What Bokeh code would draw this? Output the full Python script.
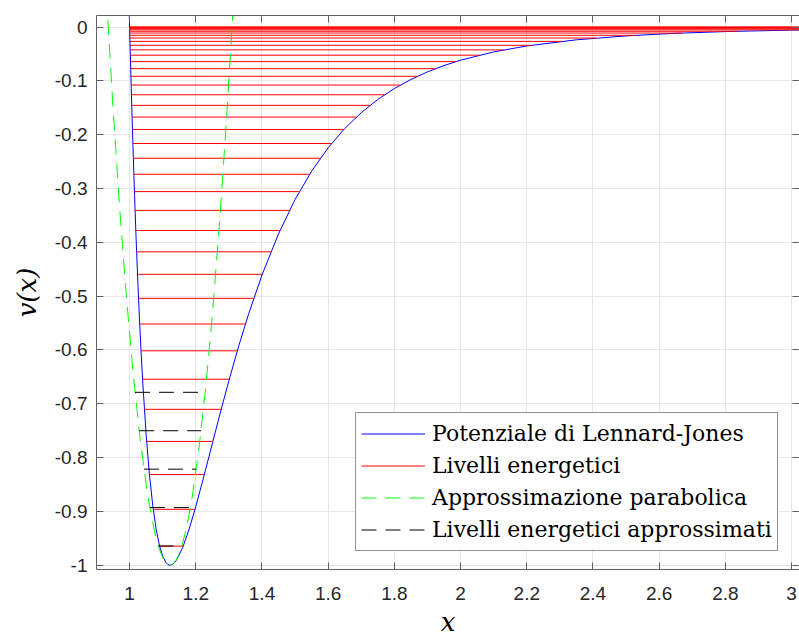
from bokeh.plotting import figure
from bokeh.models import Range1d, FixedTicker, LinearAxis, Legend, LegendItem, CustomJSTickFormatter
from bokeh.embed import file_html
from bokeh.resources import INLINE

# Lennard-Jones potential
lj_x = [0.999, 1.0, 1.005, 1.01, 1.015, 1.02, 1.025, 1.03, 1.035, 1.04, 1.05, 1.06, 1.07,
        1.08, 1.09, 1.10, 1.11, 1.115, 1.12, 1.1225, 1.13, 1.14, 1.16, 1.18, 1.20, 1.22,
        1.24, 1.27, 1.30, 1.33, 1.36, 1.40, 1.45, 1.50, 1.55, 1.60, 1.65, 1.70, 1.75,
        1.80, 1.85, 1.90, 1.95, 2.0, 2.1, 2.2, 2.35, 2.5, 2.65, 2.8, 3.0, 3.05]
lj_v = [0.0242, 0.0, -0.1145, -0.2184, -0.3126, -0.3979, -0.4750, -0.5444, -0.6069, -0.6629,
        -0.7575, -0.8320, -0.8893, -0.9322, -0.9629, -0.9834, -0.9952, -0.9983, -0.9998,
        -1.0, -0.9985, -0.9921, -0.9679, -0.9329, -0.8910, -0.8452, -0.7977, -0.7261,
        -0.6570, -0.5921, -0.5323, -0.4607, -0.3841, -0.3203, -0.2677, -0.2242, -0.1884,
        -0.1589, -0.1344, -0.1142, -0.0973, -0.0832, -0.0714, -0.0615, -0.0461, -0.0350,
        -0.0236, -0.0163, -0.0115, -0.0083, -0.0055, -0.0050]

# energy levels (red) with their turning points
level_v = [-0.9646, -0.8962, -0.8315, -0.7700, -0.7103, -0.6544, -0.6016, -0.5518, -0.5041,
           -0.4594, -0.4176, -0.3779, -0.3406, -0.3057, -0.2735, -0.2437, -0.2163, -0.1902,
           -0.1672, -0.1454, -0.1257, -0.1076, -0.0914, -0.0772, -0.0641, -0.0522, -0.0423,
           -0.0338, -0.0265, -0.0203, -0.0152, -0.0110, -0.0077, -0.0051, -0.0032, -0.0018,
           -0.0009, -0.00036, -0.0001, -0.00001]
level_x_left = [1.0907, 1.0714, 1.0599, 1.0515, 1.0447, 1.0392, 1.0346, 1.0306, 1.0270, 1.0240,
                1.0212, 1.0188, 1.0166, 1.0146, 1.0129, 1.0113, 1.0099, 1.0086, 1.0075, 1.0064,
                1.0055, 1.0047, 1.0039, 1.0033, 1.0027, 1.0022, 1.0018, 1.0014, 1.0011, 1.0009,
                1.0006, 1.0005, 1.0003, 1.0002, 1.0001, 1.0001, 1.0, 1.0, 1.0, 1.0]
level_x_right = [1.1621, 1.1976, 1.2258, 1.2515, 1.2767, 1.3012, 1.3255, 1.3499, 1.3751, 1.4008,
                 1.4270, 1.4545, 1.4831, 1.5130, 1.5440, 1.5764, 1.6102, 1.6473, 1.6848, 1.7263,
                 1.7703, 1.8183, 1.8698, 1.9244, 1.9861, 2.0564, 2.1306, 2.2130, 2.3054, 2.4102,
                 2.5304, 2.6704, 2.8363, 3.0372, 3.2886, 3.6124, 4.057, 4.721, 5.876, 8.735]

# parabolic approximation (green dashed)
para_x = [0.93, 0.95, 0.97, 0.99, 1.01, 1.03, 1.05, 1.06, 1.07, 1.08, 1.09, 1.10, 1.11, 1.1225,
          1.13, 1.14, 1.15, 1.16, 1.17, 1.18, 1.19, 1.21, 1.23, 1.25, 1.27, 1.29, 1.31, 1.32]
para_v = [0.0583, -0.1503, -0.3359, -0.4987, -0.6387, -0.7558, -0.8500, -0.8885, -0.9214,
          -0.9485, -0.9699, -0.9856, -0.9956, -1.0, -0.9984, -0.9912, -0.9783, -0.9597,
          -0.9354, -0.9054, -0.8697, -0.7811, -0.6696, -0.5353, -0.3781, -0.1980, 0.0048, 0.1149]

# approximated (harmonic) levels (black dashed)
approx_v = [-0.9643, -0.8929, -0.8215, -0.7501, -0.6787]
approx_x_left = [1.0872, 1.0613, 1.0435, 1.0290, 1.0165]
approx_x_right = [1.1578, 1.1837, 1.2015, 1.2160, 1.2286]

x_ticks = [1.0, 1.2, 1.4, 1.6, 1.8, 2.0, 2.2, 2.4, 2.6, 2.8, 3.0]
x_tick_labels = ["1", "1.2", "1.4", "1.6", "1.8", "2", "2.2", "2.4", "2.6", "2.8", "3"]
y_ticks = [-1.0, -0.9, -0.8, -0.7, -0.6, -0.5, -0.4, -0.3, -0.2, -0.1, 0.0]
y_tick_labels = ["-1", "-0.9", "-0.8", "-0.7", "-0.6", "-0.5", "-0.4", "-0.3", "-0.2", "-0.1", "0"]

legend_labels = ["Potenziale di Lennard-Jones", "Livelli energetici",
                 "Approssimazione parabolica", "Livelli energetici approssimati"]

AX = "#606060"
TXT = "#262626"

p = figure(width=799, height=639, x_range=Range1d(0.9, 3.024), y_range=Range1d(-1.008, 0.0216),
           output_backend="svg", toolbar_location=None,
           min_border_left=96, min_border_right=0, min_border_top=15, min_border_bottom=0,
           outline_line_color=None, background_fill_color="white", border_fill_color="white")

xt = FixedTicker(ticks=x_ticks)
yt = FixedTicker(ticks=y_ticks)

for ax, ticks, labels in [(p.xaxis[0], xt, dict(zip(x_ticks, x_tick_labels))),
                          (p.yaxis[0], yt, dict(zip(y_ticks, y_tick_labels)))]:
    ax.ticker = ticks
    ax.major_label_overrides = labels
    ax.major_tick_in = 7
    ax.major_tick_out = 0
    ax.minor_tick_line_color = None
    ax.axis_line_color = AX
    ax.major_tick_line_color = AX
    ax.major_label_text_font = "Liberation Sans"
    ax.major_label_text_font_size = "19px"
    ax.major_label_text_color = TXT
    ax.axis_label_text_font = "DejaVu Serif"
    ax.axis_label_text_font_style = "italic"
    ax.axis_label_text_font_size = "26px"
    ax.axis_label_text_color = "black"

p.xaxis[0].axis_label = "x"
p.xaxis[0].major_label_standoff = 17
p.xaxis[0].axis_label_standoff = 4
p.yaxis[0].axis_label = "v(x)"
p.yaxis[0].major_label_standoff = 9
p.yaxis[0].axis_label_standoff = 10

blank = CustomJSTickFormatter(code="return ''")
top = LinearAxis(ticker=xt, formatter=blank, major_tick_in=7, major_tick_out=0,
                 minor_tick_line_color=None, axis_line_color=AX, major_tick_line_color=AX,
                 major_label_standoff=0, major_label_text_font_size="1px")
right = LinearAxis(ticker=yt, formatter=blank, major_tick_in=7, major_tick_out=0,
                   minor_tick_line_color=None, axis_line_color=AX, major_tick_line_color=AX,
                   major_label_standoff=0, major_label_text_font_size="1px")
p.add_layout(top, "above")
p.add_layout(right, "right")

p.xgrid.ticker = xt
p.ygrid.ticker = yt
p.xgrid.grid_line_color = "#e6e6e6"
p.ygrid.grid_line_color = "#e6e6e6"

r_lj = p.line(lj_x, lj_v, line_color="#0000ff", line_width=1)
r_lv = p.multi_line(xs=[[a, b] for a, b in zip(level_x_left, level_x_right)],
                    ys=[[v, v] for v in level_v], line_color="#ff0000", line_width=1)
r_pa = p.line(para_x, para_v, line_color="#00ff00", line_width=1, line_dash="15 9")
r_ap = p.multi_line(xs=[[a, b] for a, b in zip(approx_x_left, approx_x_right)],
                    ys=[[v, v] for v in approx_v], line_color="black", line_width=1,
                    line_dash="15 9")

legend = Legend(items=[LegendItem(label=l, renderers=[r]) for l, r in
                       zip(legend_labels, [r_lj, r_lv, r_pa, r_ap])],
                location=(259, 18), glyph_width=64, glyph_height=31, label_height=31,
                spacing=1, padding=5, label_standoff=7, margin=0,
                label_text_font="DejaVu Serif", label_text_font_size="22px",
                label_text_color="black", border_line_color=TXT, border_line_width=1,
                background_fill_color="white", background_fill_alpha=1.0)
p.add_layout(legend, "center")

open("out.html", "w").write(file_html(p, INLINE))
